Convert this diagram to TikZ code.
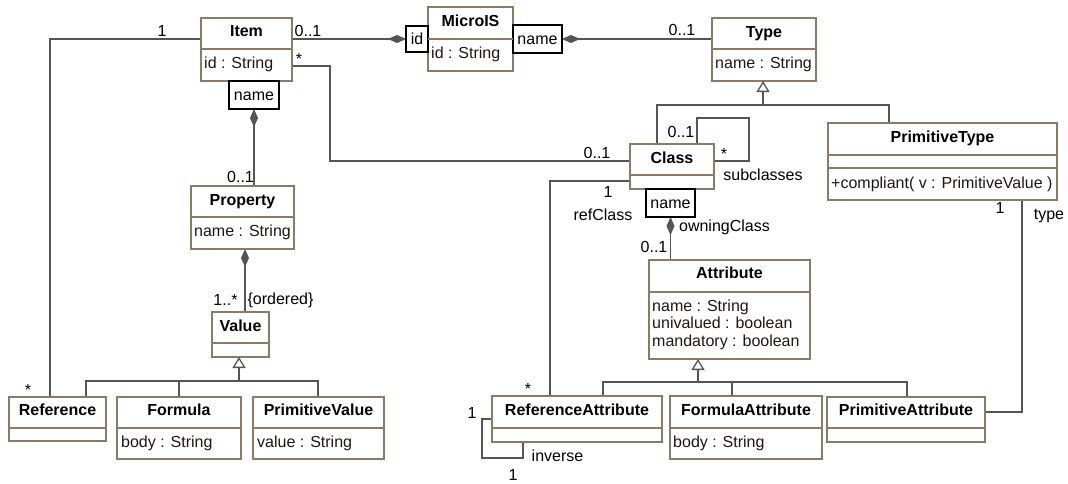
\documentclass[tikz,border=0pt]{standalone}
\usepackage{fontspec}
\setmainfont{Liberation Sans}
\usetikzlibrary{arrows.meta}
\definecolor{boxc}{RGB}{140,122,102}
\definecolor{linec}{RGB}{85,85,85}
\definecolor{txtc}{RGB}{30,22,22}
\newcommand\hsep[2]{\draw[sep] (#1.west |- 0,#2) -- (#1.east |- 0,#2);}
\begin{document}
\begin{tikzpicture}[x=1pt,y=-1pt,
  font=\fontsize{16}{19}\selectfont,
  cls/.style={draw=boxc, line width=1.3pt, fill=white, anchor=north west, inner sep=0pt, outer sep=0pt},
  qual/.style={draw=black, line width=1.3pt, fill=white, anchor=north west, inner sep=0pt, outer sep=0pt},
  ttl/.style={font=\fontsize{16}{19}\selectfont\bfseries, text height=11.5pt, text depth=0pt, inner sep=0pt, anchor=center, text=black},
  att/.style={text height=11.5pt, text depth=0pt, inner sep=0pt, anchor=west, text=txtc},
  lbl/.style={text height=11.5pt, text depth=0pt, inner sep=0pt, anchor=center, text=black},
  sep/.style={draw=boxc, line width=1.3pt},
  conn/.style={draw=linec, line width=1.3pt},
  comp/.style={conn, {Diamond[length=18pt,width=8pt]}-},
  gen/.style={conn, -{Triangle[open,length=11pt,width=13pt,fill=white]}},
]
\fill[white] (0,0) rectangle (1068,483);
\useasboundingbox (0,0) rectangle (1068,483);

% ---------- class boxes (placed first so connectors can refer to them) ----------
\path
  node[cls, minimum width=91pt,  minimum height=63pt] (item)    at (201,18)  {}
  node[cls, minimum width=85pt,  minimum height=64pt] (micro)   at (428,7)   {}
  node[cls, minimum width=104pt, minimum height=63pt] (type)    at (712,18)  {}
  node[cls, minimum width=84pt,  minimum height=45pt] (cls)     at (630,144) {}
  node[cls, minimum width=229pt, minimum height=77pt] (ptype)   at (828,123) {}
  node[cls, minimum width=103pt, minimum height=63pt] (prop)    at (191,186) {}
  node[cls, minimum width=57pt,  minimum height=45pt] (value)   at (212,312) {}
  node[cls, minimum width=97pt,  minimum height=44pt] (ref)     at (9,397)   {}
  node[cls, minimum width=124pt, minimum height=62pt] (formula) at (117,397) {}
  node[cls, minimum width=131pt, minimum height=62pt] (pval)    at (253,397) {}
  node[cls, minimum width=161pt, minimum height=99pt] (attr)    at (649,260) {}
  node[cls, minimum width=170pt, minimum height=46pt] (refattr) at (492,396) {}
  node[cls, minimum width=152pt, minimum height=63pt] (fattr)   at (670,396) {}
  node[cls, minimum width=158pt, minimum height=45pt] (pattr)   at (827,397) {};

% qualifier boxes
\path
  node[qual, minimum width=22pt, minimum height=26pt] (idq)    at (406,26)  {}
  node[qual, minimum width=49pt, minimum height=28pt] (nameq1) at (513,25)  {}
  node[qual, minimum width=50pt, minimum height=28pt] (nameq3) at (229,81)  {}
  node[qual, minimum width=49pt, minimum height=28pt] (nameq2) at (646,189) {};

% ---------- connectors ----------
% Item -- Reference
\draw[conn] (item.west |- idq.west) -| (ref.north -| 50,0);
% Item -- Class
\draw[conn] (item.east |- 0,66) -- ++(38,0) |- (cls.west |- 0,161);
% Class subclasses (self association)
\draw[conn] (cls.east |- 0,161) -- ++(35,0) |- (697,118) -- (cls.north -| 697,0);
% Class -- ReferenceAttribute (refClass)
\draw[conn] (cls.west |- 0,181) -| (refattr.north -| 550,0);
% ReferenceAttribute inverse
\draw[conn] (refattr.west |- 0,419) -- ++(-10,0) |- (523,458) -- (refattr.south -| 523,0);
% PrimitiveType -- PrimitiveAttribute
\draw[conn] (ptype.south -| 1022,0) |- (pattr.east |- 0,412);

% compositions
\draw[comp] (idq.west) -- (item.east |- idq.west);
\draw[comp] (nameq1.east) -- (type.west |- nameq1.east);
\draw[comp] (nameq3.south) -- (prop.north -| nameq3.south);
\draw[comp] (prop.south -| 245,0) -- (value.north -| 245,0);
\draw[comp] (nameq2.south) -- (attr.north -| nameq2.south);

% generalizations
\coordinate (vj) at (239,381);
\draw[conn] (ref.north -| 86,0) |- (vj) -| (pval.north -| 318,0);
\draw[conn] (formula.north) -- (formula.north |- vj);
\coordinate (tj) at (763,105);
\draw[conn] (cls.north -| 657,0) |- (tj) -| (ptype.north -| 889,0);
\coordinate (aj) at (698,382);
\draw[conn] (refattr.north -| 603,0) |- (aj) -| (pattr.north -| 907,0);
\draw[conn] (fattr.north -| 732,0) -- (732,382);

% ---------- boxes drawn on top ----------
\path
  node[cls, minimum width=91pt,  minimum height=63pt] at (201,18)  {}
  node[cls, minimum width=85pt,  minimum height=64pt] at (428,7)   {}
  node[cls, minimum width=104pt, minimum height=63pt] at (712,18)  {}
  node[cls, minimum width=84pt,  minimum height=45pt] at (630,144) {}
  node[cls, minimum width=229pt, minimum height=77pt] at (828,123) {}
  node[cls, minimum width=103pt, minimum height=63pt] at (191,186) {}
  node[cls, minimum width=57pt,  minimum height=45pt] at (212,312) {}
  node[cls, minimum width=97pt,  minimum height=44pt] at (9,397)   {}
  node[cls, minimum width=124pt, minimum height=62pt] at (117,397) {}
  node[cls, minimum width=131pt, minimum height=62pt] at (253,397) {}
  node[cls, minimum width=161pt, minimum height=99pt] at (649,260) {}
  node[cls, minimum width=170pt, minimum height=46pt] at (492,396) {}
  node[cls, minimum width=152pt, minimum height=63pt] at (670,396) {}
  node[cls, minimum width=158pt, minimum height=45pt] at (827,397) {};
\path
  node[qual, minimum width=22pt, minimum height=26pt] at (406,26)  {}
  node[qual, minimum width=49pt, minimum height=28pt] at (513,25)  {}
  node[qual, minimum width=50pt, minimum height=28pt] at (229,81)  {}
  node[qual, minimum width=49pt, minimum height=28pt] at (646,189) {};

% generalization heads over the boxes' edges
\draw[gen] (vj) -- (value.south -| vj);
\draw[gen] (tj) -- (type.south -| tj);
\draw[gen] (aj) -- (attr.south -| aj);

% compartment separators
\hsep{item}{49}
\hsep{micro}{39}
\hsep{type}{49}
\hsep{cls}{175}
\hsep{ptype}{155}
\hsep{ptype}{168}
\hsep{prop}{217}
\hsep{value}{343}
\hsep{ref}{428}
\hsep{formula}{428}
\hsep{pval}{428}
\hsep{attr}{292}
\hsep{refattr}{428}
\hsep{fattr}{428}
\hsep{pattr}{428}

% ---------- class texts ----------
\node[ttl] at (item.center |- 0,31)    {Item};
\node[att] at (204,63)                 {id : String};
\node[ttl] at (micro.center |- 0,21)   {MicroIS};
\node[att] at (431,52.5)               {id : String};
\node[ttl] at (type.center |- 0,31.5)  {Type};
\node[att] at (715,63)                 {name : String};
\node[ttl] at (cls.center |- 0,158)    {Class};
\node[ttl] at (ptype.center |- 0,137)  {PrimitiveType};
\node[att] at (831,183)                {+compliant( v : PrimitiveValue )};
\node[ttl] at (prop.center |- 0,200)   {Property};
\node[att] at (194,231)                {name : String};
\node[ttl] at (value.center |- 0,326)  {Value};
\node[ttl] at (ref.center |- 0,409.5)  {Reference};
\node[ttl] at (formula.center |- 0,409.5) {Formula};
\node[att] at (121,441.5)              {body : String};
\node[ttl] at (pval.center |- 0,409.5) {PrimitiveValue};
\node[att] at (257,441.5)              {value : String};
\node[ttl] at (attr.center |- 0,273)   {Attribute};
\node[att] at (652,305.5)              {name : String};
\node[att] at (652,323)                {univalued : boolean};
\node[att] at (652,341)                {mandatory : boolean};
\node[ttl] at (refattr.center |- 0,409.5) {ReferenceAttribute};
\node[ttl] at (fattr.center |- 0,409.5)   {FormulaAttribute};
\node[att] at (673,441.5)              {body : String};
\node[ttl] at (pattr.center |- 0,409.5)   {PrimitiveAttribute};

% qualifier texts
\node[lbl] at (idq.center)    {id};
\node[lbl] at (nameq1.center) {name};
\node[lbl] at (nameq3.center) {name};
\node[lbl] at (nameq2.center) {name};

% ---------- association end labels ----------
\node[lbl] at (162,31)    {1};
\node[lbl] at (308,31)    {0..1};
\node[lbl] at (299,58.5)  {*};
\node[lbl] at (682,30)    {0..1};
\node[lbl] at (597,153)   {0..1};
\node[lbl] at (681,132)   {0..1};
\node[lbl] at (724,153.5) {*};
\node[lbl] at (763,174.5) {subclasses};
\node[lbl] at (608,192)   {1};
\node[lbl] at (603,215)   {refClass};
\node[lbl] at (724.5,226) {owningClass};
\node[lbl] at (654,247)   {0..1};
\node[lbl] at (1000,208)  {1};
\node[lbl] at (1049,214)  {type};
\node[lbl] at (240.5,177) {0..1};
\node[lbl] at (225.5,300) {1..*};
\node[lbl] at (280.5,298.5) {\{ordered\}};
\node[lbl] at (28,389.5)  {*};
\node[lbl] at (528,388.5) {*};
\node[lbl] at (472,413)   {1};
\node[lbl] at (557.5,456) {inverse};
\node[lbl] at (513,475)   {1};
\end{tikzpicture}
\end{document}
